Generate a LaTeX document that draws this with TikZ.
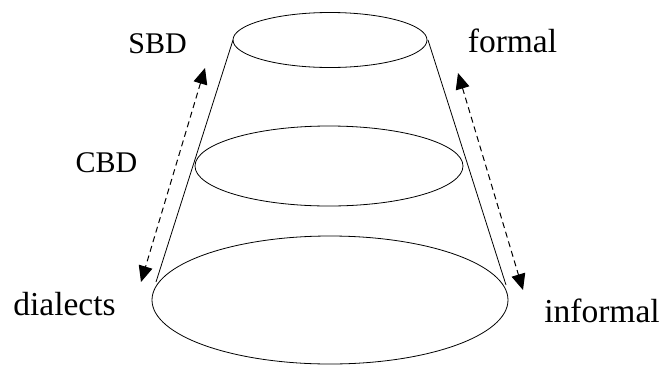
\documentclass[tikz,border=0pt]{standalone}
\usepackage{fontspec}
\setmainfont{Liberation Serif}
\usetikzlibrary{arrows.meta}

\begin{document}
\begin{tikzpicture}[x=1pt, y=-1pt,
  rim/.style={draw=black, line width=0.8pt},
  arr/.style={{Triangle[length=16pt, width=14pt]}-{Triangle[length=16pt, width=14pt]},
              dash pattern=on 6pt off 4pt, line width=1pt},
  caps/.style={font=\fontsize{30}{36}\selectfont, anchor=base},
  word/.style={font=\fontsize{33.5}{40}\selectfont, anchor=base}
]
\useasboundingbox (0,0) rectangle (662,365);

% three levels of the cone
\draw[rim] (330,40)  ellipse [x radius=97pt,  y radius=27.5pt];
\draw[rim] (329,166) ellipse [x radius=134pt, y radius=40pt];
\draw[rim] (330,300) ellipse [x radius=178pt, y radius=64pt];

% sides
\coordinate (tl) at (233,40);
\coordinate (tr) at (428,40);
\coordinate (bl) at (156,282);
\coordinate (br) at (506,285);
\draw[rim] (tl) -- (bl);
\draw[rim] (tr) -- (br);

% labels
\node[caps] (sbd) at (157.5,53) {SBD};
\node[caps] (cbd) at (106.5,172) {CBD};
\node[word] (formal)   at (512.5,52)  {formal};
\node[word] (dialects) at (64.5,315)  {dialects};
\node[word] (informal) at (602,322)   {informal};

% scales
\coordinate (la) at (205,68);
\coordinate (lb) at (141,282);
\coordinate (ra) at (458,73);
\coordinate (rb) at (523,290);
\draw[arr] (la) -- (lb);
\draw[arr] (ra) -- (rb);
\end{tikzpicture}
\end{document}
